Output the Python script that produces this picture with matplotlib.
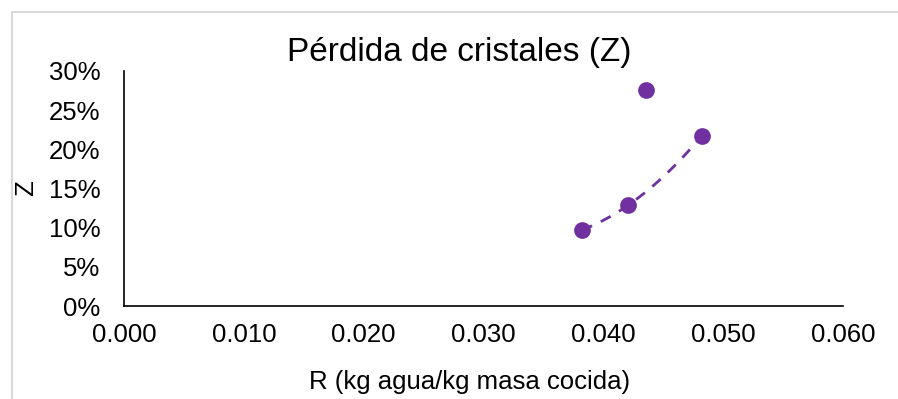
import numpy as np
import matplotlib.pyplot as plt
from matplotlib.lines import Line2D
from matplotlib.ticker import PercentFormatter, FormatStrFormatter

plt.rcParams['font.family'] = ['Liberation Sans', 'DejaVu Sans']

# data
r_values = [0.0382, 0.0421, 0.0436, 0.0482]
z_values = [0.097, 0.129, 0.276, 0.217]
# points used for the dashed trend line (outlier left out)
trend_r = [0.0382, 0.0421, 0.0482]
trend_z = [0.097, 0.129, 0.217]

color = '#7030A0'


def main():
    fig = plt.figure(figsize=(8.98, 3.99), dpi=100)
    ax = fig.add_axes([124 / 898, 1 - 306 / 399, 719 / 898, 235 / 399])

    # trend line, 2nd order polynomial
    coef = np.polyfit(trend_r, trend_z, 2)
    xs = np.linspace(min(trend_r), max(trend_r), 100)
    ax.plot(xs, np.polyval(coef, xs), '--', color=color, lw=2, dashes=(4, 3.5), zorder=2)

    ax.scatter(r_values, z_values, s=145, color=color, zorder=3, linewidths=0)

    ax.set_xlim(0, 0.060)
    ax.set_ylim(0, 0.30)
    ax.set_xticks(np.arange(0, 0.0601, 0.010))
    ax.set_yticks(np.arange(0, 0.301, 0.05))
    ax.xaxis.set_major_formatter(FormatStrFormatter('%.3f'))
    ax.yaxis.set_major_formatter(PercentFormatter(1.0, decimals=0))
    ax.tick_params(length=0, labelsize=18.5)
    ax.tick_params(axis='x', pad=12)
    ax.tick_params(axis='y', pad=17)

    for side in ['top', 'right']:
        ax.spines[side].set_visible(False)
    for side in ['left', 'bottom']:
        ax.spines[side].set_color('black')
        ax.spines[side].set_linewidth(1.2)

    fig.text(459.5 / 898, 1 - 52 / 399, 'Pérdida de cristales (Z)', fontsize=24,
             ha='center', va='center')
    ax.set_xlabel('R (kg agua/kg masa cocida)', fontsize=18.5, va='center')
    ax.xaxis.set_label_coords((470 - 124) / 719, (306 - 382) / 235)
    ax.set_ylabel('Z', fontsize=18.5, va='center')
    ax.yaxis.set_label_coords((26 - 124) / 719, (306 - 188) / 235)

    # light gray chart-area border (cropped)
    gray = '#D9D9D9'
    fig.add_artist(Line2D([11.5 / 898, 11.5 / 898], [0, 1 - 11.5 / 399], color=gray, lw=1.5,
                          transform=fig.transFigure))
    fig.add_artist(Line2D([11.5 / 898, 1], [1 - 11.5 / 399, 1 - 11.5 / 399], color=gray, lw=1.5,
                          transform=fig.transFigure))

    fig.savefig('out.png', dpi=100)


if __name__ == '__main__':
    main()
